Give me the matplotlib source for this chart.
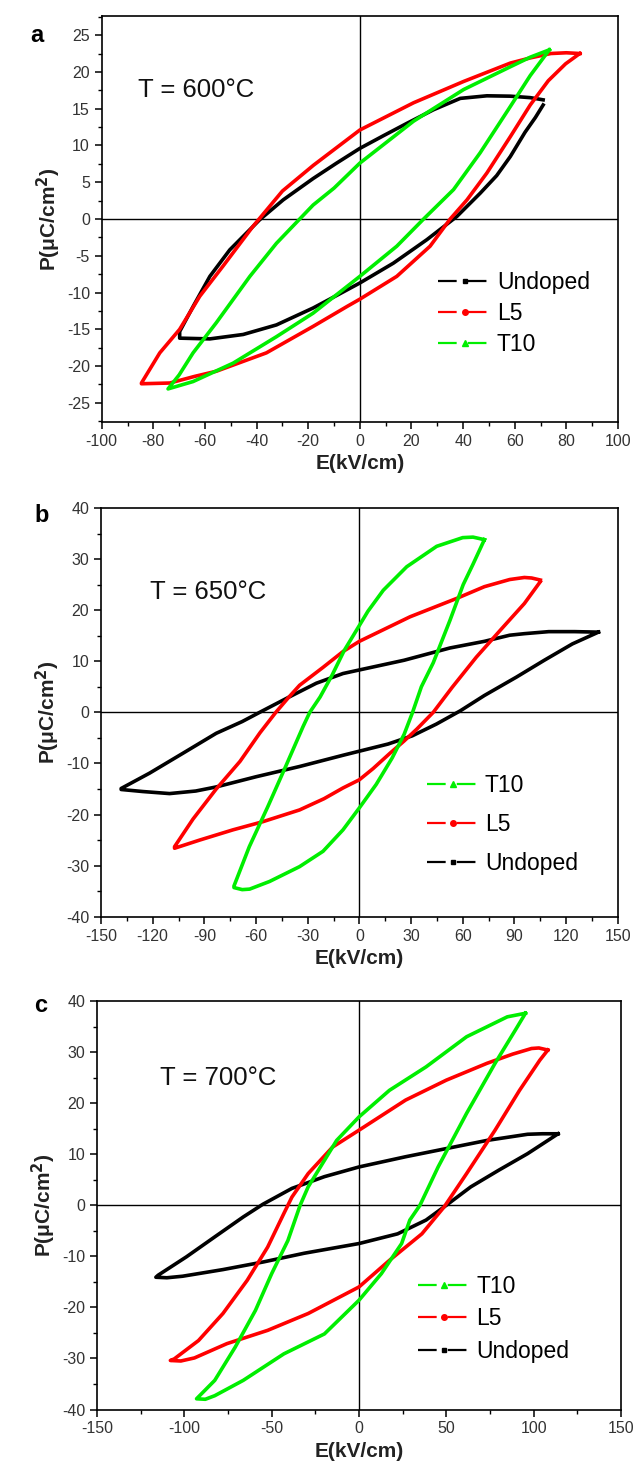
import matplotlib
matplotlib.use("Agg")
import matplotlib.pyplot as plt
from matplotlib.lines import Line2D
from matplotlib.ticker import MultipleLocator

plt.rcParams['font.family'] = ['Liberation Sans', 'DejaVu Sans']
plt.rcParams['mathtext.default'] = 'regular'
plt.rcParams['axes.unicode_minus'] = False

# ---- panel a, T = 600 C : closed loops (E in kV/cm, P in uC/cm2)
# each list: right tip -> upper branch to the left -> lower branch back to the right
E_a_und = [71, 66, 58.3, 49.2, 38.9, 28.5, 18.2, 9, 0, -9, -18.1, -29.7, -38.8, -50.4, -58.1, -64.6, -69.8,
           -69.8, -58.1, -45.2, -32.3, -18.1, -9, 0, 13, 26, 37.6, 46.6, 53, 58.3, 64, 68, 71]
P_a_und = [16.2, 16.5, 16.7, 16.75, 16.4, 14.85, 13.0, 11.3, 9.6, 7.6, 5.5, 2.6, -0.1, -4.2, -7.8, -11.9, -15.3,
           -16.2, -16.3, -15.7, -14.4, -12.1, -10.4, -8.7, -6.0, -2.8, 0.35, 3.5, 5.9, 8.5, 11.8, 13.8, 15.5]

E_a_l5 = [85.2, 80, 74, 66, 58.3, 40.2, 20.8, 0, -18, -30, -41.4, -53, -62, -69.8, -77.5, -84.6,
          -84.6, -73.6, -64, -55.6, -36.2, -18.1, -5, 0, 14.3, 27.2, 35, 41.5, 49.2, 58.3, 66, 73, 79.7, 85.2]
P_a_l5 = [22.5, 22.6, 22.5, 21.9, 21.2, 18.7, 15.8, 12.1, 7.3, 3.8, -1.0, -6.4, -10.5, -15.0, -18.2, -22.3,
          -22.4, -22.3, -21.4, -20.7, -18.2, -14.6, -11.9, -10.9, -7.8, -3.7, 0, 2.6, 6.25, 11.2, 15.5, 18.8, 21.1, 22.5]

E_a_t10 = [73.4, 66, 58.3, 40.2, 20.8, 0, -10, -18.1, -23.3, -32.3, -42.6, -55.6, -64.6, -70, -74.3,
           -74.3, -64.6, -49.1, -32.3, -18.1, 0, 14.3, 24.7, 36.3, 46.6, 58.3, 66, 73.4]
P_a_t10 = [23.0, 22.0, 20.7, 17.6, 13.3, 7.6, 4.2, 1.9, 0, -3.3, -7.8, -14.1, -18.2, -21.2, -23.1,
           -23.1, -22.1, -19.6, -16.0, -12.8, -7.8, -3.7, 0, 4.0, 9.0, 15.3, 19.5, 23.0]

# ---- panel b, T = 650 C
E_b_und = [138.8, 125, 110, 95.8, 87.3, 72.6, 52.6, 26, 0, -9.5, -25, -40.5, -57.9, -68, -83.1, -102.4, -121.8, -138.3,
           -138.3, -125.7, -110.2, -95, -83.1, -59.9, -34.7, -9.5, 0, 16.7, 30.7, 44.7, 58.6, 72.6, 91.2, 107.4, 123.7, 138.8]
P_b_und = [15.7, 15.8, 15.8, 15.4, 15.1, 13.9, 12.6, 10.2, 8.3, 7.6, 5.7, 3.05, 0, -1.8, -4.1, -8.0, -11.9, -14.9,
           -15.1, -15.5, -15.9, -15.4, -14.6, -12.6, -10.6, -8.4, -7.6, -6.2, -4.6, -2.3, 0.3, 3.3, 6.9, 10.2, 13.4, 15.7]

E_b_l5 = [105.1, 100, 95.8, 87.3, 72.6, 56.5, 29.4, 0, -9.5, -21.1, -34.7, -41.4, -48.5, -57.7, -69.3, -83.1, -96.6, -107.3,
          -107.3, -92.7, -73.4, -56, -34.7, -20.5, -9.5, 0, 8, 17.8, 26, 33.3, 42.9, 53.9, 67.9, 81.9, 95.8, 105.1]
P_b_l5 = [25.9, 26.3, 26.4, 26.0, 24.6, 22.3, 18.7, 13.9, 11.9, 8.8, 5.3, 2.8, 0, -4.0, -9.6, -15.0, -20.9, -26.3,
          -26.6, -25.0, -23.0, -21.4, -19.1, -16.9, -14.8, -13.2, -11.0, -8.0, -5.6, -3.3, 0, 4.9, 10.8, 16.1, 21.3, 25.6]

E_b_t10 = [72.6, 66, 60, 44.9, 27.5, 13.9, 5, 0, -8.8, -15.8, -22.8, -28.8, -32.7, -42.8, -53.2, -63.9, -72.8,
           -72.8, -68, -63.7, -52.1, -34.7, -21.1, -9.5, 0, 9.8, 19.1, 26, 30.9, 36, 42.9, 52.6, 60.3, 66, 72.6]
P_b_t10 = [33.8, 34.3, 34.2, 32.5, 28.5, 23.9, 19.8, 17.0, 12.1, 7.3, 3.0, 0, -2.8, -10.6, -18.5, -26.3, -34.0,
           -34.3, -34.7, -34.6, -33.1, -30.2, -27.2, -23.0, -18.7, -14.1, -8.9, -4.3, 0, 5.0, 9.7, 18.0, 25.0, 29.0, 33.8]

# ---- panel c, T = 700 C
E_c_und = [114, 105, 96.5, 73.3, 50, 26.7, 0, -19.8, -38.4, -55, -66.3, -82.6, -98.8, -115, -116.3,
           -110, -101, -77.9, -54.7, -31.4, 0, 22.1, 38.4, 50, 64, 80.2, 96.5, 114]
P_c_und = [14.0, 14.0, 13.9, 12.7, 11.1, 9.5, 7.5, 5.6, 3.3, 0.2, -2.3, -6.2, -10.1, -13.7, -14.1,
           -14.2, -13.9, -12.6, -11.1, -9.4, -7.5, -5.6, -2.9, 0, 3.6, 6.9, 10.1, 14.0]

E_c_l5 = [108.1, 103, 98.8, 88, 73.3, 50, 26.7, 0, -15.1, -29.1, -38.4, -43, -52.3, -64, -77.9, -91.9, -105.8, -108,
          -102, -94.2, -75.6, -52.3, -29.1, 0, 17.4, 36, 48.8, 61.6, 77.9, 91.9, 103.5, 108.1]
P_c_l5 = [30.4, 30.8, 30.7, 29.6, 27.8, 24.5, 20.6, 14.7, 11.4, 6.2, 1.6, -1.6, -8.2, -14.7, -21.2, -26.5, -30.1, -30.4,
          -30.5, -29.9, -27.1, -24.5, -21.2, -16.0, -10.8, -5.6, -0.3, 6.2, 14.7, 22.5, 28.4, 30.4]

E_c_t10 = [95.3, 84.9, 61.6, 38.4, 17.4, 0, -12.8, -22.1, -29.1, -33.7, -40.7, -50, -59.3, -70.9, -82.6, -93,
           -88, -82.6, -66.3, -43, -19.8, 0, 12.8, 24.4, 29.1, 34.9, 45.3, 61.6, 77.9, 89.5, 95.3]
P_c_t10 = [37.6, 36.9, 33.0, 27.1, 22.5, 17.3, 12.7, 7.5, 3.6, 0, -6.9, -13.4, -20.6, -27.8, -34.3, -37.9,
           -38.0, -37.3, -34.3, -29.1, -25.2, -18.6, -13.4, -7.5, -2.9, 0, 7.5, 18.0, 27.8, 34.3, 37.6]

temps = ['T = 600°C', 'T = 650°C', 'T = 700°C']
letters = ['a', 'b', 'c']

c_und, c_l5, c_t10 = 'black', '#ff0000', '#00ee00'
styles = {'Undoped': (c_und, 's', 3.5), 'L5': (c_l5, 'o', 4), 'T10': (c_t10, '^', 4.5)}


def legend_handle(name):
    col, mk, ms = styles[name]
    return Line2D([], [], color=col, lw=1.6, linestyle=(0, (8.4, 5.0)), marker=mk, markersize=ms)


def loop(ax, E, P, name):
    col = styles[name][0]
    ax.plot(E, P, color=col, lw=2.6, solid_joinstyle='round')


fig = plt.figure(figsize=(6.33, 14.73), dpi=100)
W, H = 633, 1473

# axes boxes in pixels: left, top, right, bottom
boxes = [(101.7, 16, 618, 422), (101, 508, 617.7, 916.7), (97, 1001, 621, 1409.5)]
axes = []
for (l, t, r, b) in boxes:
    axes.append(fig.add_axes([l / W, 1 - b / H, (r - l) / W, (b - t) / H]))

panels = [
    [(E_a_und, P_a_und, 'Undoped'), (E_a_l5, P_a_l5, 'L5'), (E_a_t10, P_a_t10, 'T10')],
    [(E_b_und, P_b_und, 'Undoped'), (E_b_l5, P_b_l5, 'L5'), (E_b_t10, P_b_t10, 'T10')],
    [(E_c_und, P_c_und, 'Undoped'), (E_c_l5, P_c_l5, 'L5'), (E_c_t10, P_c_t10, 'T10')],
]
legend_order = [['Undoped', 'L5', 'T10'], ['T10', 'L5', 'Undoped'], ['T10', 'L5', 'Undoped']]

xlims = [(-100, 100), (-150, 150), (-150, 150)]
ylims = [(-27.6, 27.6), (-40, 40), (-40, 40)]
xmaj = [20, 30, 50]
ymaj = [5, 10, 10]
yticks_lim = [25, 40, 40]
leg_anchor = [(0.652, 0.372), (0.630, 0.350), (0.612, 0.330)]
leg_spacing = [0.35, 0.7, 0.42]
txt_pos = [(0.07, 0.818), (0.094, 0.794), (0.12, 0.812)]
letter_pos = [(30, 36), (34, 516), (34, 1006)]

for i, ax in enumerate(axes):
    for E, P, name in panels[i]:
        loop(ax, E, P, name)
    ax.axhline(0, color='black', lw=1.0, zorder=0)
    ax.axvline(0, color='black', lw=1.0, zorder=0)
    ax.set_xlim(*xlims[i])
    ax.set_ylim(*ylims[i])
    ax.xaxis.set_major_locator(MultipleLocator(xmaj[i]))
    ax.xaxis.set_minor_locator(MultipleLocator(xmaj[i] / 2))
    ax.set_yticks(range(-yticks_lim[i], yticks_lim[i] + 1, ymaj[i]))
    ax.yaxis.set_minor_locator(MultipleLocator(ymaj[i] / 2))
    ax.tick_params(which='major', direction='out', length=5, width=1.1, labelsize=11.5,
                   labelcolor='#333333', top=False, right=False)
    ax.tick_params(which='minor', direction='out', length=3, width=1.0, top=False, right=False)
    for s in ax.spines.values():
        s.set_linewidth(1.2)
    ax.set_xlabel('E(kV/cm)', fontsize=15, fontweight='bold', color='#222222', labelpad=4)
    ax.set_ylabel(r'P(μC/cm$^\mathbf{2}$)', fontsize=15, fontweight='bold', color='#222222', labelpad=3)
    ax.text(txt_pos[i][0], txt_pos[i][1], temps[i], transform=ax.transAxes, fontsize=18.5,
            va='center', ha='left', color='#111111')
    handles = [legend_handle(n) for n in legend_order[i]]
    ax.legend(handles, legend_order[i], loc='upper left', bbox_to_anchor=leg_anchor[i],
              frameon=False, fontsize=16.5, handlelength=2.3, handletextpad=0.25,
              borderpad=0, borderaxespad=0, labelspacing=leg_spacing[i], numpoints=1)
    fig.text(letter_pos[i][0] / W, 1 - letter_pos[i][1] / H, letters[i], fontsize=17,
             fontweight='bold', ha='left', va='center')

fig.savefig('out.png', dpi=100)
